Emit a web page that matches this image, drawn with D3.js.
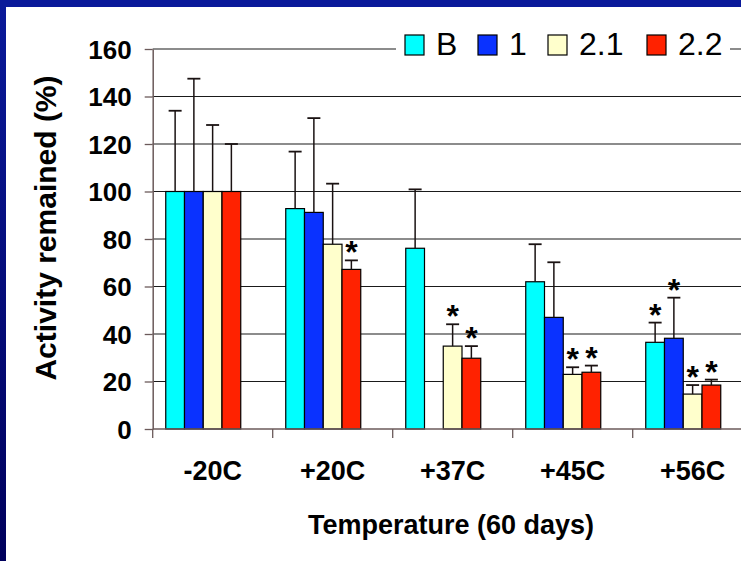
<!DOCTYPE html>
<html>
<head>
<meta charset="utf-8">
<script src="https://cdn.jsdelivr.net/npm/d3@7"></script>
<style>
  html, body { margin: 0; padding: 0; background: #fff; }
  svg { display: block; font-family: Arial, "Liberation Sans", sans-serif; }
</style>
</head>
<body>
<svg id="chart" width="741" height="561"></svg>
<script>
// Enzyme activity remaining after 60 days at each storage temperature
const categories = ["-20C", "+20C", "+37C", "+45C", "+56C"];
const seriesNames = ["B", "1", "2.1", "2.2"];
const seriesColors = ["#00FFFF", "#0A32FF", "#FFFFCC", "#FF2200"];

const valuesB  = [100, 92.8, 76.1, 62.0, 36.5];
const values1  = [100, 91.2, null, 47.0, 38.2];
const values21 = [100, 77.8, 34.9, 23.0, 14.7];
const values22 = [100, 67.2, 29.8, 23.9, 18.5];

// upper error bars (SD)
const errB  = [34.0, 24.0, 24.8, 15.8, 8.3];
const err1  = [47.5, 39.7, null, 23.2, 17.1];
const err21 = [28.0, 25.5, 9.2, 3.0, 3.8];
const err22 = [20.0, 3.8, 5.1, 2.8, 2.3];

// significance markers (*)
const sigB  = [0, 0, 0, 0, 1];
const sig1  = [0, 0, 0, 0, 1];
const sig21 = [0, 0, 1, 1, 1];
const sig22 = [0, 1, 1, 1, 1];

const yTicks = [0, 20, 40, 60, 80, 100, 120, 140, 160];
const yTitle = "Activity remained (%)";
const xTitle = "Temperature (60 days)";

const allValues = [valuesB, values1, values21, values22];
const allErrors = [errB, err1, err21, err22];
const allSig = [sigB, sig1, sig21, sig22];

const rows = [];
categories.forEach((c, ci) => {
  seriesNames.forEach((s, si) => {
    rows.push({ cat: c, series: s, si, value: allValues[si][ci], err: allErrors[si][ci], sig: allSig[si][ci] });
  });
});

const svg = d3.select("#chart");
const W = 741, H = 561;

// frame
svg.append("rect").attr("x", 0).attr("y", 0).attr("width", W).attr("height", H).attr("fill", "#fff");
const defs = svg.append("defs");
const lg = defs.append("linearGradient").attr("id", "leftEdge").attr("x1", 0).attr("y1", 0).attr("x2", 0).attr("y2", 1);
lg.append("stop").attr("offset", "0%").attr("stop-color", "#0A1A9A");
lg.append("stop").attr("offset", "100%").attr("stop-color", "#00005C");
svg.append("rect").attr("x", 0).attr("y", 0).attr("width", 6).attr("height", H).attr("fill", "url(#leftEdge)");
svg.append("rect").attr("x", 0).attr("y", 0).attr("width", W).attr("height", 7).attr("fill", "#0A1A9A");

const plotLeft = 152.7, plotTop = 49, plotBottom = 429;
const catStep = 120;

const x0 = d3.scaleBand().domain(categories)
  .range([plotLeft, plotLeft + catStep * categories.length]).padding(0);
const x1 = d3.scaleBand().domain(seriesNames)
  .range([0, x0.bandwidth()]).paddingInner(0).paddingOuter(1.2).align(0.29);
const y = d3.scaleLinear().domain([0, 160]).range([plotBottom, plotTop]);

const clip = defs.append("clipPath").attr("id", "plotClip");
clip.append("rect").attr("x", 0).attr("y", 0).attr("width", W).attr("height", H);

const g = svg.append("g").attr("clip-path", "url(#plotClip)");

// horizontal gridlines
g.append("g").selectAll("line").data(yTicks.filter(t => t > 0)).join("line")
  .attr("x1", plotLeft).attr("x2", W)
  .attr("y1", d => y(d)).attr("y2", d => y(d))
  .attr("stroke", "#1a1a1a").attr("stroke-width", 1.2);

// y axis
const yAxis = d3.axisLeft(y).tickValues(yTicks).tickSize(8).tickPadding(13).tickSizeOuter(0);
const ya = svg.append("g").attr("transform", `translate(${plotLeft},0)`).call(yAxis);
ya.select(".domain").attr("stroke", "#6b5a5a").attr("stroke-width", 1.5);
ya.selectAll(".tick line").attr("stroke", "#6b5a5a").attr("stroke-width", 1.3);
ya.selectAll(".tick text").attr("font-size", 26).attr("font-weight", "bold")
  .attr("fill", "#000").attr("font-family", "Arial, 'Liberation Sans', sans-serif").attr("dy", "0.36em");

// x axis (category boundaries)
const xa = svg.append("g");
xa.append("line").attr("x1", plotLeft).attr("x2", W).attr("y1", plotBottom).attr("y2", plotBottom)
  .attr("stroke", "#6b5a5a").attr("stroke-width", 1.5);
xa.selectAll("line.b").data(categories).join("line").attr("class", "b")
  .attr("x1", d => x0(d)).attr("x2", d => x0(d))
  .attr("y1", plotBottom).attr("y2", plotBottom + 9)
  .attr("stroke", "#6b5a5a").attr("stroke-width", 1.3);
xa.selectAll("text").data(categories).join("text")
  .attr("x", d => x0(d) + x0.bandwidth() / 2).attr("y", 480)
  .attr("text-anchor", "middle").attr("font-size", 27).attr("font-weight", "bold").text(d => d);

// bars
const bars = rows.filter(d => d.value != null);
g.append("g").selectAll("rect").data(bars).join("rect")
  .attr("x", d => x0(d.cat) + x1(d.series))
  .attr("width", x1.bandwidth())
  .attr("y", d => y(d.value))
  .attr("height", d => y(0) - y(d.value))
  .attr("fill", d => seriesColors[d.si])
  .attr("stroke", "#000").attr("stroke-width", 1.2);

// error bars (upper only)
const eb = g.append("g").selectAll("g").data(bars.filter(d => d.err != null)).join("g");
eb.append("line")
  .attr("x1", d => x0(d.cat) + x1(d.series) + x1.bandwidth() / 2)
  .attr("x2", d => x0(d.cat) + x1(d.series) + x1.bandwidth() / 2)
  .attr("y1", d => y(d.value)).attr("y2", d => y(d.value + d.err))
  .attr("stroke", "#1a1212").attr("stroke-width", 1.5);
eb.append("line")
  .attr("x1", d => x0(d.cat) + x1(d.series) + x1.bandwidth() / 2 - 6.5)
  .attr("x2", d => x0(d.cat) + x1(d.series) + x1.bandwidth() / 2 + 6.5)
  .attr("y1", d => y(d.value + d.err)).attr("y2", d => y(d.value + d.err))
  .attr("stroke", "#1a1212").attr("stroke-width", 1.8);

// significance asterisks
g.append("g").selectAll("text").data(bars.filter(d => d.sig)).join("text")
  .attr("x", d => x0(d.cat) + x1(d.series) + x1.bandwidth() / 2)
  .attr("y", d => y(d.value + d.err) + 3)
  .attr("text-anchor", "middle").attr("font-size", 32).attr("font-weight", "bold")
  .text("*");

// axis titles
svg.append("text")
  .attr("transform", `translate(56,${(plotTop + plotBottom) / 2 - 11}) rotate(-90)`)
  .attr("text-anchor", "middle").attr("font-size", 30).attr("font-weight", "bold")
  .text(yTitle);
svg.append("text").attr("x", 451).attr("y", 534)
  .attr("text-anchor", "middle").attr("font-size", 27).attr("font-weight", "bold")
  .text(xTitle);

// legend
const legend = svg.append("g");
legend.append("rect").attr("x", 396).attr("y", 33).attr("width", 334).attr("height", 28).attr("fill", "#fff");
const legendX = [405, 478, 548, 647];
const li = legend.selectAll("g").data(seriesNames).join("g")
  .attr("transform", (d, i) => `translate(${legendX[i]},0)`);
li.append("rect").attr("x", 0).attr("y", 35).attr("width", 19).attr("height", 20)
  .attr("fill", (d, i) => seriesColors[i]).attr("stroke", "#000").attr("stroke-width", 1.2);
li.append("text").attr("x", 31).attr("y", 55).attr("font-size", 32).text(d => d);
</script>
</body>
</html>
